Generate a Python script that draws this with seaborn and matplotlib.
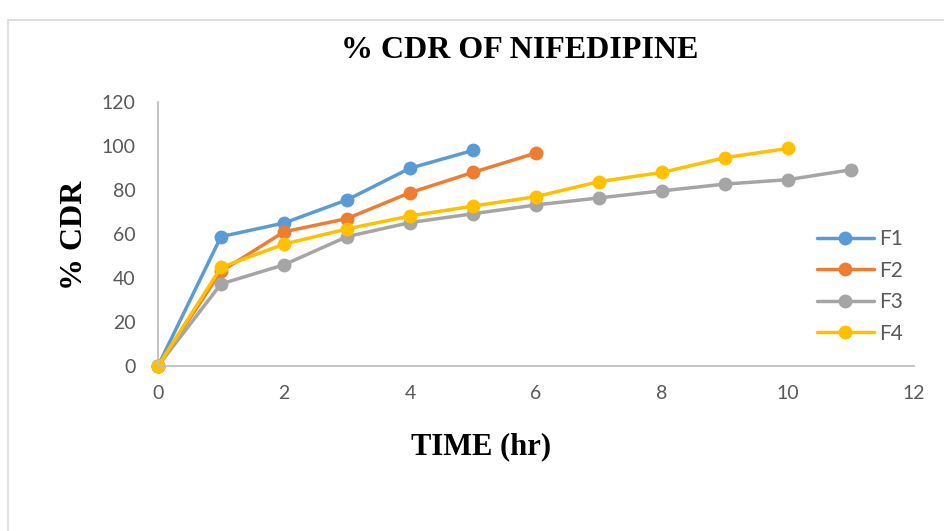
import matplotlib
matplotlib.use("Agg")
import matplotlib.pyplot as plt
import seaborn as sns
import pandas as pd
from matplotlib.patches import Rectangle

series_names = ["F1", "F2", "F3", "F4"]
f1_time = [0, 1, 2, 3, 4, 5]
f1_cdr = [0, 58.8, 65.0, 75.5, 89.9, 98.0]
f2_time = [0, 1, 2, 3, 4, 5, 6]
f2_cdr = [0, 43.0, 61.0, 67.0, 78.8, 88.0, 96.8]
f3_time = [0, 1, 2, 3, 4, 5, 6, 7, 8, 9, 10, 11]
f3_cdr = [0, 37.3, 46.0, 58.8, 65.2, 69.2, 73.2, 76.4, 79.6, 82.7, 84.7, 89.2]
f4_time = [0, 1, 2, 3, 4, 5, 6, 7, 8, 9, 10]
f4_cdr = [0, 44.8, 55.4, 62.3, 68.2, 72.7, 77.0, 83.8, 88.0, 94.7, 98.9]
colors = ["#5B9BD5", "#ED7D31", "#A5A5A5", "#FFC000"]
x_ticks = [0, 2, 4, 6, 8, 10, 12]
y_ticks = [0, 20, 40, 60, 80, 100, 120]

frames = []
for name, t, v in zip(series_names, [f1_time, f2_time, f3_time, f4_time],
                      [f1_cdr, f2_cdr, f3_cdr, f4_cdr]):
    frames.append(pd.DataFrame({"time": t, "cdr": v, "series": name}))
df = pd.concat(frames, ignore_index=True)

sns.set_style("white")
plt.rcParams["font.family"] = ["Lato", "DejaVu Sans"]

fig = plt.figure(figsize=(9.45, 5.31), dpi=100)
W, H = 945, 531
ax = fig.add_axes([158 / W, 1 - 366 / H, (914 - 158) / W, (366 - 102) / H])

sns.lineplot(data=df, x="time", y="cdr", hue="series", hue_order=series_names,
             palette=colors, marker="o", markersize=10, markeredgewidth=0,
             linewidth=2.5, ax=ax, clip_on=False)

ax.set_xlim(0, 12)
ax.set_ylim(0, 120)
ax.set_xticks(x_ticks)
ax.set_yticks(y_ticks)
ax.tick_params(axis="both", length=0, labelsize=14, labelcolor="#595959")
ax.tick_params(axis="y", pad=16)
ax.tick_params(axis="x", pad=14)
for s in ["top", "right"]:
    ax.spines[s].set_visible(False)
for s in ["left", "bottom"]:
    ax.spines[s].set_color("#BFBFBF")
    ax.spines[s].set_linewidth(1.3)
ax.grid(False)

ax.set_xlabel("")
ax.set_ylabel("")
serif = ["Liberation Serif", "DejaVu Serif"]
fig.text(520 / W, 1 - 50 / H, "% CDR OF NIFEDIPINE", ha="center", va="center",
         fontsize=23, fontweight="bold", family=serif, color="black")
fig.text(481 / W, 1 - 447 / H, "TIME (hr)", ha="center", va="center",
         fontsize=22, fontweight="bold", family=serif, color="black")
fig.text(75 / W, 1 - 235 / H, "% CDR", ha="center", va="center", rotation=90,
         fontsize=23, fontweight="bold", family=serif, color="black")

leg = ax.legend(loc="upper left", bbox_to_anchor=((809 - 158) / (914 - 158), (366 - 221) / (366 - 102)),
                frameon=False, fontsize=15, handlelength=2.7, labelspacing=0.55,
                handletextpad=0.25, borderaxespad=0)
for txt in leg.get_texts():
    txt.set_color("#595959")

fig.patches.append(Rectangle((8 / W, -0.01), 1.0, 1 - 20 / H + 0.01, transform=fig.transFigure,
                             fill=False, edgecolor="#D9D9D9", linewidth=1.2))

fig.savefig("out.png", dpi=100)
